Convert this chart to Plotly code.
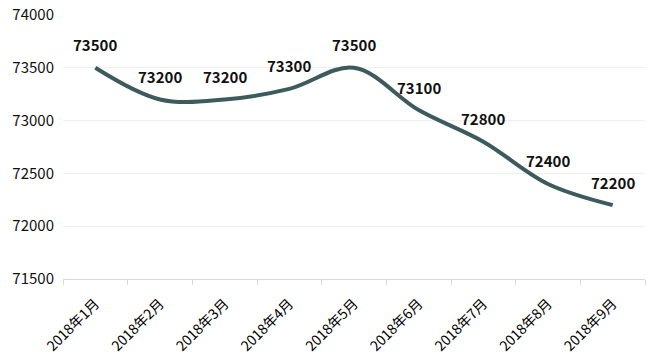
import plotly.graph_objects as go

months = ["2018年1月", "2018年2月", "2018年3月", "2018年4月", "2018年5月",
          "2018年6月", "2018年7月", "2018年8月", "2018年9月"]
values = [73500, 73200, 73200, 73300, 73500, 73100, 72800, 72400, 72200]
y_ticks = [71500, 72000, 72500, 73000, 73500, 74000]

font_family = "Noto Sans CJK SC, Noto Sans, sans-serif"

fig = go.Figure()
fig.add_trace(go.Scatter(
    x=months, y=values, mode="lines",
    line=dict(color="#3d5a5c", width=4, shape="spline", smoothing=1.0),
    hoverinfo="x+y", showlegend=False,
))

for m, v in zip(months, values):
    fig.add_annotation(x=m, y=v, text=f"<b>{v}</b>", showarrow=False,
                       yshift=23, font=dict(size=15, color="#111111", family=font_family))

fig.update_layout(
    width=659, height=361,
    margin=dict(l=63, r=14, t=15, b=82, autoexpand=False),
    paper_bgcolor="white", plot_bgcolor="white",
    font=dict(family=font_family, color="#111111", size=14),
    xaxis=dict(
        type="category", tickson="boundaries", range=[-0.5, 8.5],
        tickangle=-45, ticks="outside", ticklen=5, tickcolor="#d9d9d9",
        showline=True, linecolor="#d9d9d9", linewidth=1, automargin=False,
        showgrid=False, tickfont=dict(size=14, color="#000000"),
        ticklabelstandoff=10,
    ),
    yaxis=dict(
        range=[71500, 74000], tickvals=y_ticks, ticktext=[str(t) for t in y_ticks],
        showgrid=True, gridcolor="#efefef", gridwidth=1, zeroline=False,
        showline=False, ticks="", tickfont=dict(size=15), automargin=False,
        ticklabelstandoff=8,
    ),
)

fig.write_html("out.html",
               config={"displayModeBar": False},
               post_script="document.body.style.margin='0';document.body.style.overflow='hidden';")
